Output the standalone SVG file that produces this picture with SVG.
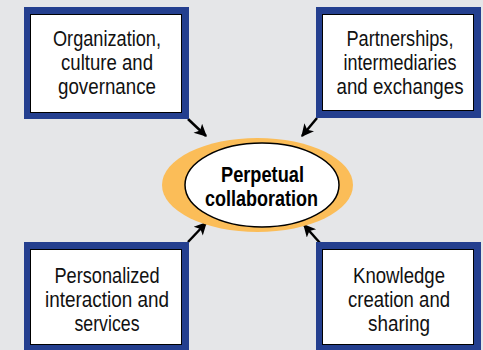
<svg xmlns="http://www.w3.org/2000/svg" width="483" height="350" viewBox="0 0 483 350">
<defs>
<style>
.frame{fill:#243f8f}
.inner{fill:#ffffff;stroke:#000000;stroke-width:1}
.lbl{font-family:"Liberation Sans",Arial,sans-serif;font-size:21.5px;fill:#111111;text-anchor:middle}
.ctr{font-family:"Liberation Sans",Arial,sans-serif;font-size:22px;font-weight:bold;fill:#000000;text-anchor:middle}
.arr{stroke:#000000;stroke-width:2.5;fill:none;marker-end:url(#ah)}
</style>
<marker id="ah" viewBox="0 0 10 10" refX="9" refY="5" markerWidth="6" markerHeight="5" markerUnits="strokeWidth" orient="auto">
<path d="M0,0 L10,5 L0,10 L2.5,5 Z" fill="#000000"/>
</marker>
</defs>
<rect x="0" y="0" width="483" height="350" fill="#e5e6e8"/>
<g id="connectors">
<line class="arr" x1="188" y1="119" x2="206" y2="136"/>
<line class="arr" x1="317" y1="118" x2="302" y2="136"/>
<line class="arr" x1="188" y1="242" x2="206" y2="223"/>
<line class="arr" x1="320" y1="243" x2="304" y2="225"/>
</g>
<g id="center">
<ellipse cx="257.5" cy="185" rx="95.5" ry="47" fill="#fbbd58"/>
<ellipse cx="262" cy="185" rx="77" ry="42" fill="#ffffff" stroke="#000000" stroke-width="1.5"/>
<text class="ctr" x="262.5" y="182" textLength="83" lengthAdjust="spacingAndGlyphs">Perpetual</text>
<text class="ctr" x="261.5" y="206" textLength="113" lengthAdjust="spacingAndGlyphs">collaboration</text>
</g>
<g id="org">
<rect class="frame" x="24" y="7" width="165" height="112"/>
<rect class="inner" x="30.5" y="14.5" width="151" height="98"/>
<text class="lbl" x="107" y="46" textLength="108" lengthAdjust="spacingAndGlyphs">Organization,</text>
<text class="lbl" x="107" y="70" textLength="92" lengthAdjust="spacingAndGlyphs">culture and</text>
<text class="lbl" x="107" y="94" textLength="98" lengthAdjust="spacingAndGlyphs">governance</text>
</g>
<g id="partnerships">
<rect class="frame" x="316" y="7" width="165" height="111"/>
<rect class="inner" x="322.5" y="14.5" width="151" height="96"/>
<text class="lbl" x="400" y="46" textLength="107" lengthAdjust="spacingAndGlyphs">Partnerships,</text>
<text class="lbl" x="400" y="70" textLength="113" lengthAdjust="spacingAndGlyphs">intermediaries</text>
<text class="lbl" x="400" y="94" textLength="127" lengthAdjust="spacingAndGlyphs">and exchanges</text>
</g>
<g id="personalized">
<rect class="frame" x="24" y="242" width="165" height="108"/>
<rect class="inner" x="30.5" y="249.5" width="151" height="95"/>
<text class="lbl" x="107" y="283" textLength="105" lengthAdjust="spacingAndGlyphs">Personalized</text>
<text class="lbl" x="107" y="307" textLength="124" lengthAdjust="spacingAndGlyphs">interaction and</text>
<text class="lbl" x="107" y="331" textLength="65" lengthAdjust="spacingAndGlyphs">services</text>
</g>
<g id="knowledge">
<rect class="frame" x="316" y="242" width="165" height="108"/>
<rect class="inner" x="322.5" y="249.5" width="151" height="95"/>
<text class="lbl" x="399" y="283" textLength="92" lengthAdjust="spacingAndGlyphs">Knowledge</text>
<text class="lbl" x="399" y="307" textLength="102" lengthAdjust="spacingAndGlyphs">creation and</text>
<text class="lbl" x="399" y="331" textLength="62" lengthAdjust="spacingAndGlyphs">sharing</text>
</g>
</svg>
